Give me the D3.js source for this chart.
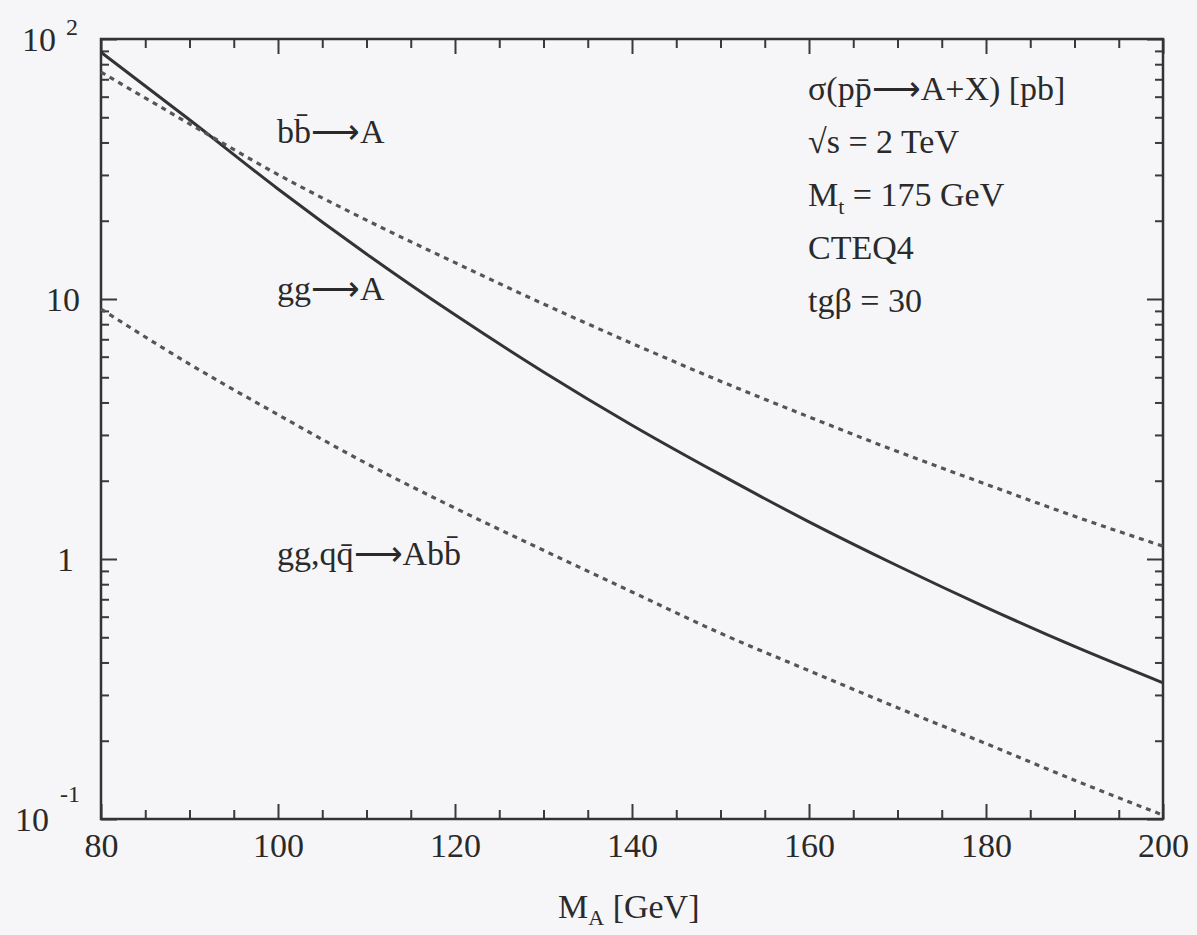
<!DOCTYPE html>
<html>
<head>
<meta charset="utf-8">
<script src="https://cdn.jsdelivr.net/npm/d3@7"></script>
<style>
body { margin: 0; background: #f6f6f8; }
svg { display: block; font-family: "Liberation Serif", "Times New Roman", serif; }
.axis path.domain { display: none; }
.axis line { stroke: #3a3a3a; stroke-width: 2; }
</style>
</head>
<body>
<div id="app"></div>
<script>
// datos (M_A en GeV, sigma en pb)
const masses = [80, 90, 100, 110, 120, 130, 140, 150, 160, 170, 180, 190, 200]
const ggA = [88.9, 48.9, 26.5, 14.9, 8.69, 5.24, 3.27, 2.11, 1.39, 0.942, 0.652, 0.461, 0.334]
const bbA = [74.6, 47.2, 30.1, 20.1, 13.8, 9.57, 6.75, 4.83, 3.52, 2.59, 1.94, 1.46, 1.12]
const ggAbb = [9.15, 5.62, 3.59, 2.33, 1.57, 1.08, 0.747, 0.518, 0.372, 0.268, 0.195, 0.141, 0.1035]

const xTicks = [80, 100, 120, 140, 160, 180, 200]
const xMinor = d3.range(80, 201, 5).filter(d => d % 20 !== 0)
const yTicks = [0.1, 1, 10, 100]
const yMinor = [0.1, 1, 10].flatMap(b => d3.range(2, 10).map(k => k * b))

const infoLines = ['σ(pp̄⟶A+X) [pb]', '√s = 2 TeV', 'M|t| = 175 GeV', 'CTEQ4', 'tgβ = 30']

const w = 1197
const h = 935
const m = { left: 101, right: 1163, top: 39, bottom: 819 }
const ink = '#2a2a2a'

const svg = d3.select('#app')
  .append('svg')
  .attr('width', w)
  .attr('height', h)

const x = d3.scaleLinear().domain([80, 200]).range([m.left, m.right])
const y = d3.scaleLog().domain([0.1, 100]).range([m.bottom, m.top])

// ejes: ticks hacia dentro
svg.append('g').attr('class', 'axis')
  .attr('transform', `translate(0,${m.bottom})`)
  .call(d3.axisBottom(x).tickValues(xTicks).tickSize(-15).tickPadding(14).tickFormat(d3.format('d')))
  .call(g => g.selectAll('text')
    .attr('font-size', 34).attr('fill', ink)
    .attr('font-family', '"Liberation Serif", serif'))
svg.append('g').attr('class', 'axis')
  .attr('transform', `translate(0,${m.bottom})`)
  .call(d3.axisBottom(x).tickValues(xMinor).tickSize(-9).tickFormat(''))
svg.append('g').attr('class', 'axis')
  .attr('transform', `translate(0,${m.top})`)
  .call(d3.axisTop(x).tickValues(xTicks).tickSize(-15).tickFormat(''))
svg.append('g').attr('class', 'axis')
  .attr('transform', `translate(0,${m.top})`)
  .call(d3.axisTop(x).tickValues(xMinor).tickSize(-9).tickFormat(''))

svg.append('g').attr('class', 'axis')
  .attr('transform', `translate(${m.left},0)`)
  .call(d3.axisLeft(y).tickValues(yTicks).tickSize(-16).tickFormat(''))
svg.append('g').attr('class', 'axis')
  .attr('transform', `translate(${m.left},0)`)
  .call(d3.axisLeft(y).tickValues(yMinor).tickSize(-8).tickFormat(''))
svg.append('g').attr('class', 'axis')
  .attr('transform', `translate(${m.right},0)`)
  .call(d3.axisRight(y).tickValues(yTicks).tickSize(-16).tickFormat(''))
svg.append('g').attr('class', 'axis')
  .attr('transform', `translate(${m.right},0)`)
  .call(d3.axisRight(y).tickValues(yMinor).tickSize(-8).tickFormat(''))

svg.append('rect')
  .attr('x', m.left)
  .attr('y', m.top)
  .attr('width', m.right - m.left)
  .attr('height', m.bottom - m.top)
  .attr('fill', 'none')
  .attr('stroke', '#333')
  .attr('stroke-width', 2.5)

// etiquetas del eje y (potencias de diez)
const yLab = svg.append('g').attr('fill', ink).attr('font-size', 34)
yTicks.forEach(v => {
  const yy = y(v)
  const t = yLab.append('text').attr('y', yy + 12)
  if (v === 100) {
    t.attr('x', 22).text('10')
    yLab.append('text').attr('x', 66).attr('y', yy - 4).attr('font-size', 24).text('2')
  } else if (v === 0.1) {
    t.attr('x', 15).text('10')
    yLab.append('text').attr('x', 60).attr('y', yy - 17).attr('font-size', 24).text('-1')
  } else {
    t.attr('x', 80).attr('text-anchor', 'end').text(v === 10 ? '10' : '1')
    if (v === 1) t.attr('x', 74)
  }
})

// curvas
const line = d3.line()
  .x((d, i) => x(masses[i]))
  .y(d => y(d))
  .curve(d3.curveMonotoneX)

svg.append('path')
  .attr('d', line(ggA))
  .attr('fill', 'none')
  .attr('stroke', '#333')
  .attr('stroke-width', 3)

;[bbA, ggAbb].forEach(s => {
  svg.append('path')
    .attr('d', line(s))
    .attr('fill', 'none')
    .attr('stroke', '#555')
    .attr('stroke-width', 3.2)
    .attr('stroke-dasharray', '5,5')
})

// textos de procesos
const lab = svg.append('g').attr('fill', ink).attr('font-size', 34)
lab.append('text').attr('x', 277).attr('y', 143).text('bb̄⟶A')
lab.append('text').attr('x', 277).attr('y', 300).text('gg⟶A')
lab.append('text').attr('x', 277).attr('y', 565).text('gg,qq̄⟶Abb̄')

// caja de parametros
infoLines.forEach((s, i) => {
  const t = lab.append('text').attr('x', 808).attr('y', 100 + i * 53)
  if (s.includes('|')) {
    const [a, sub, b] = s.split('|')
    t.append('tspan').text(a)
    t.append('tspan').attr('font-size', 22).attr('dy', 8).text(sub)
    t.append('tspan').attr('dy', -8).text(b)
  } else {
    t.text(s)
  }
})

// titulo eje x
const xt = svg.append('text')
  .attr('x', 558)
  .attr('y', 918)
  .attr('fill', ink)
  .attr('font-size', 34)
xt.append('tspan').text('M')
xt.append('tspan').attr('font-size', 22).attr('dy', 7).text('A')
xt.append('tspan').attr('dy', -7).text(' [GeV]')
</script>
</body>
</html>
